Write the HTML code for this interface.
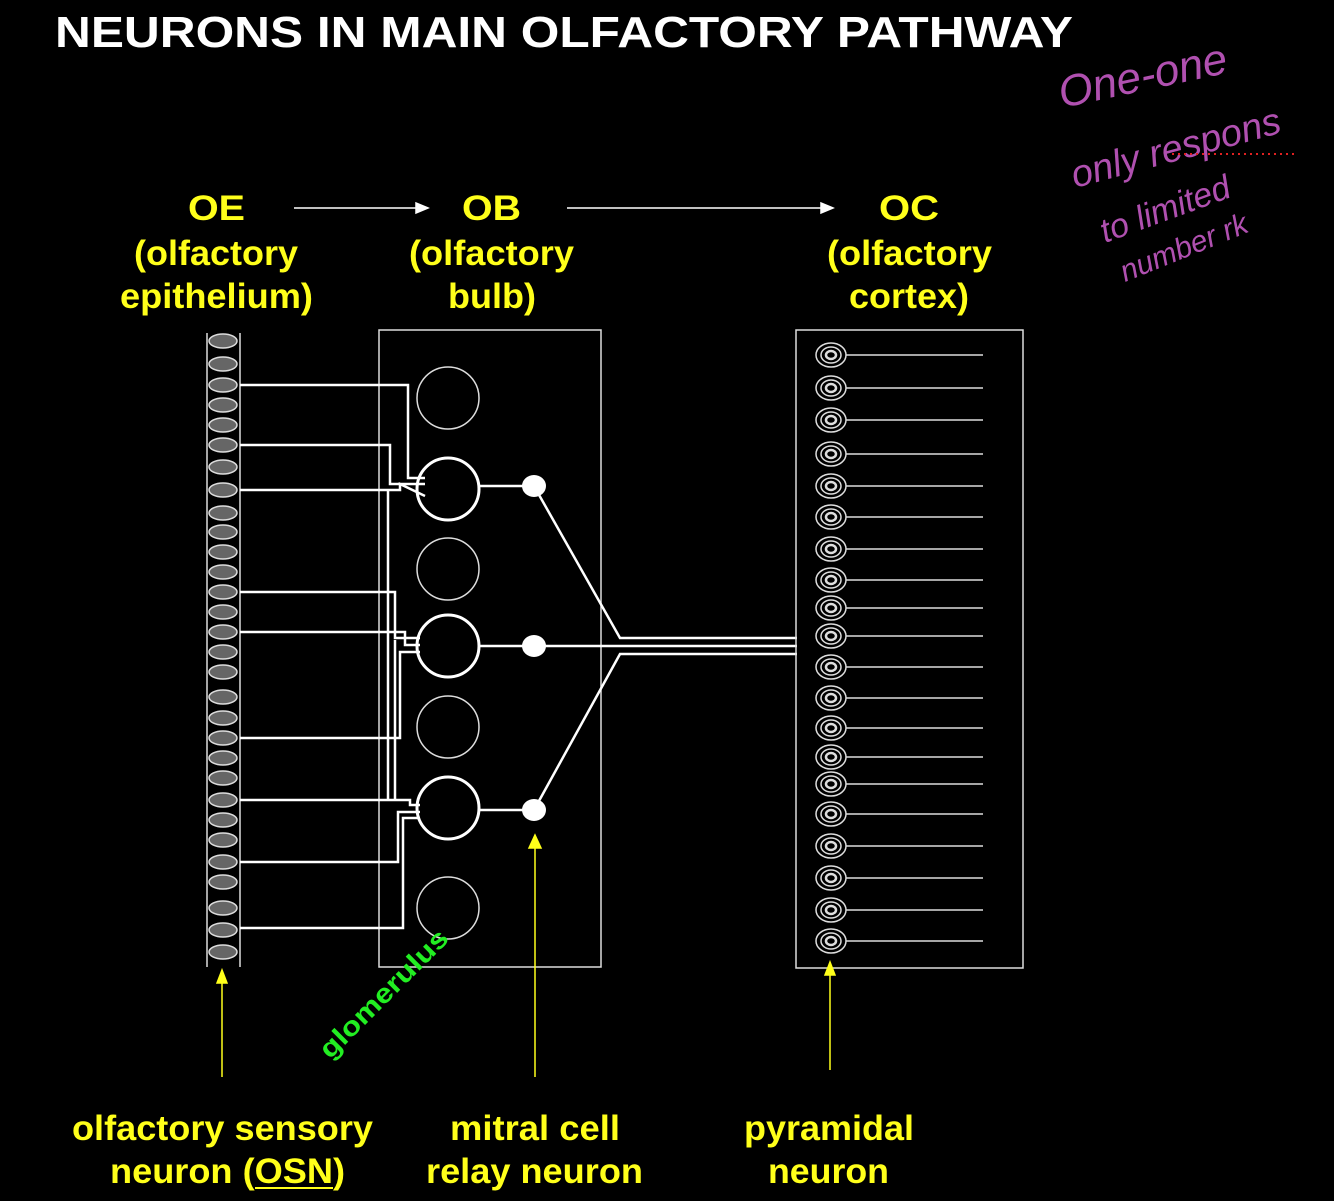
<!DOCTYPE html>
<html><head><meta charset="utf-8"><style>
html,body{margin:0;padding:0;background:#000;}
svg{display:block;}
text{font-family:"Liberation Sans",sans-serif;font-weight:bold;}
.y{fill:#ffff1a;font-size:35px;}
</style></head><body>
<svg width="1334" height="1201" viewBox="0 0 1334 1201" xmlns="http://www.w3.org/2000/svg">
<rect width="1334" height="1201" fill="#000"/>
<text x="55" y="47" fill="#fff" font-size="44" textLength="1018" lengthAdjust="spacingAndGlyphs">NEURONS IN MAIN OLFACTORY PATHWAY</text>

<text class="y" x="188" y="220" textLength="57" lengthAdjust="spacingAndGlyphs">OE</text>
<text class="y" x="134" y="265" textLength="164" lengthAdjust="spacingAndGlyphs">(olfactory</text>
<text class="y" x="120" y="308" textLength="193" lengthAdjust="spacingAndGlyphs">epithelium)</text>
<text class="y" x="462" y="220" textLength="59" lengthAdjust="spacingAndGlyphs">OB</text>
<text class="y" x="409" y="265" textLength="165" lengthAdjust="spacingAndGlyphs">(olfactory</text>
<text class="y" x="448" y="308" textLength="88" lengthAdjust="spacingAndGlyphs">bulb)</text>
<text class="y" x="879" y="220" textLength="60" lengthAdjust="spacingAndGlyphs">OC</text>
<text class="y" x="827" y="265" textLength="165" lengthAdjust="spacingAndGlyphs">(olfactory</text>
<text class="y" x="849" y="308" textLength="120" lengthAdjust="spacingAndGlyphs">cortex)</text>

<g stroke="#fff" stroke-width="1.5" fill="#fff">
<line x1="294" y1="208" x2="420" y2="208"/><polygon points="428,208 416,203 416,213"/>
<line x1="567" y1="208" x2="825" y2="208"/><polygon points="833,208 821,203 821,213"/>
</g>

<!-- OE -->
<g stroke="#ddd" stroke-width="1.5">
<line x1="207" y1="333" x2="207" y2="967"/><line x1="240" y1="333" x2="240" y2="967"/>
</g>
<g fill="#666" stroke="#ddd" stroke-width="1.5">
<ellipse cx="223" cy="341" rx="14" ry="7"/><ellipse cx="223" cy="364" rx="14" ry="7"/><ellipse cx="223" cy="385" rx="14" ry="7"/><ellipse cx="223" cy="405" rx="14" ry="7"/><ellipse cx="223" cy="425" rx="14" ry="7"/><ellipse cx="223" cy="445" rx="14" ry="7"/><ellipse cx="223" cy="467" rx="14" ry="7"/><ellipse cx="223" cy="490" rx="14" ry="7"/><ellipse cx="223" cy="513" rx="14" ry="7"/><ellipse cx="223" cy="532" rx="14" ry="7"/><ellipse cx="223" cy="552" rx="14" ry="7"/><ellipse cx="223" cy="572" rx="14" ry="7"/><ellipse cx="223" cy="592" rx="14" ry="7"/><ellipse cx="223" cy="612" rx="14" ry="7"/><ellipse cx="223" cy="632" rx="14" ry="7"/><ellipse cx="223" cy="652" rx="14" ry="7"/><ellipse cx="223" cy="672" rx="14" ry="7"/><ellipse cx="223" cy="697" rx="14" ry="7"/><ellipse cx="223" cy="718" rx="14" ry="7"/><ellipse cx="223" cy="738" rx="14" ry="7"/><ellipse cx="223" cy="758" rx="14" ry="7"/><ellipse cx="223" cy="778" rx="14" ry="7"/><ellipse cx="223" cy="800" rx="14" ry="7"/><ellipse cx="223" cy="820" rx="14" ry="7"/><ellipse cx="223" cy="840" rx="14" ry="7"/><ellipse cx="223" cy="862" rx="14" ry="7"/><ellipse cx="223" cy="882" rx="14" ry="7"/><ellipse cx="223" cy="908" rx="14" ry="7"/><ellipse cx="223" cy="930" rx="14" ry="7"/><ellipse cx="223" cy="952" rx="14" ry="7"/>
</g>

<!-- OB box -->
<rect x="379" y="330" width="222" height="637" fill="none" stroke="#ddd" stroke-width="1.5"/>
<g fill="none" stroke="#ddd" stroke-width="1.5">
<circle cx="448" cy="398" r="31"/><circle cx="448" cy="569" r="31"/><circle cx="448" cy="727" r="31"/><circle cx="448" cy="908" r="31"/>
</g>
<g fill="none" stroke="#fff" stroke-width="3">
<circle cx="448" cy="489" r="31"/><circle cx="448" cy="646" r="31"/><circle cx="448" cy="808" r="31"/>
</g>
<!-- axons -->
<g fill="none" stroke="#fff" stroke-width="2.5">
<polyline points="240,385 408,385 408,478 425,478"/>
<polyline points="240,445 390,445 390,484 425,484"/>
<polyline points="240,490 400,490 400,484 425,496"/>
<polyline points="240,592 395,592 395,638 420,638"/>
<polyline points="240,632 405,632 405,645 420,645"/>
<polyline points="240,738 400,738 400,652 420,652"/>
<polyline points="240,800 410,800 410,805 420,805"/>
<polyline points="240,862 398,862 398,812 420,812"/>
<polyline points="240,928 403,928 403,818 420,818"/>
<polyline points="395,640 395,800"/>
<polyline points="388,490 388,800"/>
</g>
<!-- mitral -->
<g stroke="#fff" stroke-width="2.5" fill="none">
<line x1="479" y1="486" x2="534" y2="486"/><line x1="479" y1="646" x2="534" y2="646"/><line x1="479" y1="810" x2="534" y2="810"/>
<polyline points="534,486 620,638 797,638"/>
<polyline points="534,646 797,646"/>
<polyline points="534,810 620,654 797,654"/>
</g>
<g fill="#fff"><ellipse cx="534" cy="486" rx="12" ry="11"/><ellipse cx="534" cy="646" rx="12" ry="11"/><ellipse cx="534" cy="810" rx="12" ry="11"/></g>

<!-- OC -->
<rect x="796" y="330" width="227" height="638" fill="none" stroke="#ddd" stroke-width="1.5"/>
<g id="pyr" stroke="#ddd" fill="none" stroke-width="1.5">
<g transform="translate(831,355)"><ellipse rx="15" ry="12"/><ellipse rx="10" ry="8"/><ellipse rx="5" ry="4" stroke-width="2.5"/><line x1="15" y1="0" x2="152" y2="0"/></g>
<g transform="translate(831,388)"><ellipse rx="15" ry="12"/><ellipse rx="10" ry="8"/><ellipse rx="5" ry="4" stroke-width="2.5"/><line x1="15" y1="0" x2="152" y2="0"/></g>
<g transform="translate(831,420)"><ellipse rx="15" ry="12"/><ellipse rx="10" ry="8"/><ellipse rx="5" ry="4" stroke-width="2.5"/><line x1="15" y1="0" x2="152" y2="0"/></g>
<g transform="translate(831,454)"><ellipse rx="15" ry="12"/><ellipse rx="10" ry="8"/><ellipse rx="5" ry="4" stroke-width="2.5"/><line x1="15" y1="0" x2="152" y2="0"/></g>
<g transform="translate(831,486)"><ellipse rx="15" ry="12"/><ellipse rx="10" ry="8"/><ellipse rx="5" ry="4" stroke-width="2.5"/><line x1="15" y1="0" x2="152" y2="0"/></g>
<g transform="translate(831,517)"><ellipse rx="15" ry="12"/><ellipse rx="10" ry="8"/><ellipse rx="5" ry="4" stroke-width="2.5"/><line x1="15" y1="0" x2="152" y2="0"/></g>
<g transform="translate(831,549)"><ellipse rx="15" ry="12"/><ellipse rx="10" ry="8"/><ellipse rx="5" ry="4" stroke-width="2.5"/><line x1="15" y1="0" x2="152" y2="0"/></g>
<g transform="translate(831,580)"><ellipse rx="15" ry="12"/><ellipse rx="10" ry="8"/><ellipse rx="5" ry="4" stroke-width="2.5"/><line x1="15" y1="0" x2="152" y2="0"/></g>
<g transform="translate(831,608)"><ellipse rx="15" ry="12"/><ellipse rx="10" ry="8"/><ellipse rx="5" ry="4" stroke-width="2.5"/><line x1="15" y1="0" x2="152" y2="0"/></g>
<g transform="translate(831,636)"><ellipse rx="15" ry="12"/><ellipse rx="10" ry="8"/><ellipse rx="5" ry="4" stroke-width="2.5"/><line x1="15" y1="0" x2="152" y2="0"/></g>
<g transform="translate(831,667)"><ellipse rx="15" ry="12"/><ellipse rx="10" ry="8"/><ellipse rx="5" ry="4" stroke-width="2.5"/><line x1="15" y1="0" x2="152" y2="0"/></g>
<g transform="translate(831,698)"><ellipse rx="15" ry="12"/><ellipse rx="10" ry="8"/><ellipse rx="5" ry="4" stroke-width="2.5"/><line x1="15" y1="0" x2="152" y2="0"/></g>
<g transform="translate(831,728)"><ellipse rx="15" ry="12"/><ellipse rx="10" ry="8"/><ellipse rx="5" ry="4" stroke-width="2.5"/><line x1="15" y1="0" x2="152" y2="0"/></g>
<g transform="translate(831,757)"><ellipse rx="15" ry="12"/><ellipse rx="10" ry="8"/><ellipse rx="5" ry="4" stroke-width="2.5"/><line x1="15" y1="0" x2="152" y2="0"/></g>
<g transform="translate(831,784)"><ellipse rx="15" ry="12"/><ellipse rx="10" ry="8"/><ellipse rx="5" ry="4" stroke-width="2.5"/><line x1="15" y1="0" x2="152" y2="0"/></g>
<g transform="translate(831,814)"><ellipse rx="15" ry="12"/><ellipse rx="10" ry="8"/><ellipse rx="5" ry="4" stroke-width="2.5"/><line x1="15" y1="0" x2="152" y2="0"/></g>
<g transform="translate(831,846)"><ellipse rx="15" ry="12"/><ellipse rx="10" ry="8"/><ellipse rx="5" ry="4" stroke-width="2.5"/><line x1="15" y1="0" x2="152" y2="0"/></g>
<g transform="translate(831,878)"><ellipse rx="15" ry="12"/><ellipse rx="10" ry="8"/><ellipse rx="5" ry="4" stroke-width="2.5"/><line x1="15" y1="0" x2="152" y2="0"/></g>
<g transform="translate(831,910)"><ellipse rx="15" ry="12"/><ellipse rx="10" ry="8"/><ellipse rx="5" ry="4" stroke-width="2.5"/><line x1="15" y1="0" x2="152" y2="0"/></g>
<g transform="translate(831,941)"><ellipse rx="15" ry="12"/><ellipse rx="10" ry="8"/><ellipse rx="5" ry="4" stroke-width="2.5"/><line x1="15" y1="0" x2="152" y2="0"/></g>
</g>

<!-- yellow arrows -->
<g stroke="#ffff1a" stroke-width="1.5" fill="#ffff1a">
<line x1="222" y1="1077" x2="222" y2="980"/><polygon points="222,970 217,983 227,983"/>
<line x1="535" y1="1077" x2="535" y2="845"/><polygon points="535,835 529,848 541,848"/>
<line x1="830" y1="1070" x2="830" y2="972"/><polygon points="830,962 825,975 835,975"/>
</g>

<text x="0" y="0" fill="#22ee22" font-size="27" transform="translate(330,1060) rotate(-45)" textLength="170" lengthAdjust="spacingAndGlyphs">glomerulus</text>

<text class="y" x="72" y="1140" textLength="301" lengthAdjust="spacingAndGlyphs">olfactory sensory</text>
<text class="y" x="110" y="1183" textLength="235" lengthAdjust="spacingAndGlyphs">neuron (OSN)</text>
<line x1="255" y1="1188" x2="333" y2="1188" stroke="#ffff1a" stroke-width="2"/>
<text class="y" x="450" y="1140" textLength="170" lengthAdjust="spacingAndGlyphs">mitral cell</text>
<text class="y" x="426" y="1183" textLength="217" lengthAdjust="spacingAndGlyphs">relay neuron</text>
<text class="y" x="744" y="1140" textLength="170" lengthAdjust="spacingAndGlyphs">pyramidal</text>
<text class="y" x="768" y="1183" textLength="121" lengthAdjust="spacingAndGlyphs">neuron</text>

<!-- handwriting -->
<g fill="#b050b0" font-family="'DejaVu Sans',sans-serif" font-weight="normal" font-style="italic">
<text x="1062" y="108" font-size="44" transform="rotate(-12 1062 108)" style="font-weight:normal">One-one</text>
<text x="1075" y="188" font-size="38" transform="rotate(-15 1075 188)" style="font-weight:normal">only respons</text>
<text x="1105" y="243" font-size="34" transform="rotate(-20 1105 243)" style="font-weight:normal">to limited</text>
<text x="1125" y="282" font-size="30" transform="rotate(-22 1125 282)" style="font-weight:normal">number rk</text>
</g>
<line x1="1172" y1="154" x2="1295" y2="154" stroke="#e02020" stroke-width="2" stroke-dasharray="2,4"/>
</svg>
</body></html>
